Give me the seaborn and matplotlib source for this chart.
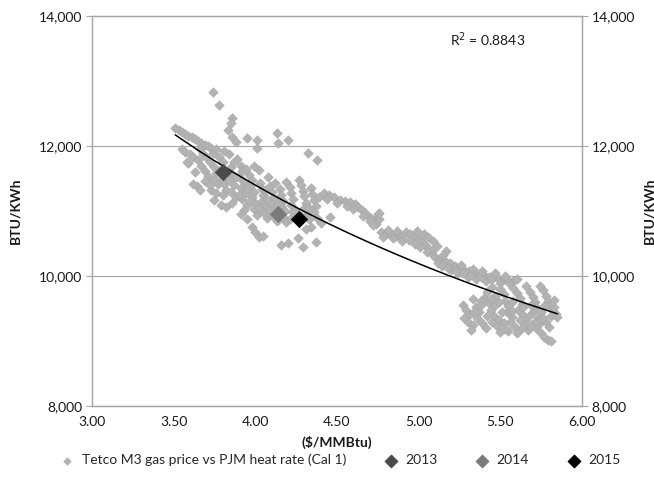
import seaborn as sns
import matplotlib.pyplot as plt
import matplotlib.ticker as mticker
import numpy as np

# Tetco M3 gas price ($/MMBtu) vs PJM heat rate (BTU/KWh)
gas_price = [
    # upper edge strip
    3.51, 3.53, 3.55, 3.57, 3.59, 3.61, 3.63, 3.65, 3.67, 3.69, 3.71, 3.73,
    # upper outliers
    3.74, 3.78, 3.86, 3.85, 3.83, 3.86, 3.88, 3.95, 4.01, 4.01, 4.13, 4.14, 4.20, 4.32, 4.38,
    # second strip / left side
    3.55, 3.57, 3.60, 3.62, 3.65, 3.59, 3.63, 3.64, 3.62, 3.66, 3.58,
    # dense cluster
    3.66, 3.68, 3.70, 3.67, 3.69, 3.71, 3.72, 3.74, 3.75, 3.76, 3.74, 3.77, 3.73,
    3.78, 3.80, 3.79, 3.81, 3.82, 3.80, 3.84, 3.85, 3.86, 3.84, 3.87, 3.85, 3.88, 3.86,
    3.89, 3.91, 3.92, 3.90, 3.93, 3.91, 3.94, 3.92, 3.95, 3.93,
    3.96, 3.98, 3.97, 3.99, 3.98, 4.00, 3.99, 4.01,
    4.02, 4.03, 4.04, 4.05, 4.04, 4.06, 4.05, 4.07,
    4.08, 4.09, 4.10, 4.11, 4.10, 4.12, 4.11, 4.13,
    4.15, 4.16, 4.17, 4.16, 4.18, 4.17, 4.19,
    4.19, 4.21, 4.22, 4.23, 4.22, 4.24, 4.25, 4.26,
    4.27, 4.28, 4.29, 4.30, 4.31, 4.30, 4.32, 4.33,
    4.34, 4.35, 4.36, 4.37, 4.36, 4.38, 4.40, 4.34, 4.39, 4.31,
    3.75, 3.79, 3.82, 3.91, 3.95,
    3.69, 3.72, 3.76, 3.78, 3.83, 3.88, 3.90, 3.95, 3.97, 4.02, 4.07, 4.09, 4.14,
    4.15, 4.21, 4.23, 4.28, 4.33, 4.06, 4.12, 3.94, 3.99, 3.87, 3.81, 3.76,
    # lower strays
    3.98, 4.00, 4.02, 4.05, 4.16, 4.20, 4.26, 4.29, 4.37,
    # right band
    4.42, 4.45, 4.48, 4.52, 4.55, 4.58, 4.61, 4.63, 4.65, 4.67, 4.69, 4.71, 4.73,
    4.75, 4.76, 4.74, 4.46, 4.76,
    4.77, 4.80, 4.83, 4.86, 4.89, 4.92, 4.95, 4.97, 5.00, 5.02, 5.04, 5.06, 5.08,
    4.99, 5.03, 5.06, 5.09, 5.11,
    4.44, 4.50, 4.56, 4.60, 4.66, 4.70, 4.72, 4.78, 4.84, 4.90, 4.94, 4.98, 5.01,
    5.05, 5.09, 4.87, 4.81,
    5.10, 5.13, 5.16, 5.19, 5.22, 5.25, 5.28, 5.31, 5.34, 5.37, 5.40, 5.43, 5.46,
    5.49, 5.52, 5.55, 5.58, 5.17, 5.20, 5.24, 5.30, 5.35, 5.41, 5.12, 5.15,
    5.14, 5.18, 5.23, 5.27, 5.32, 5.38, 5.44, 5.50, 5.56, 5.26, 5.33, 5.39, 5.47,
    5.53, 5.60,
    # lower right cluster
    5.27, 5.29, 5.31, 5.30, 5.33, 5.35, 5.37, 5.36, 5.39, 5.41, 5.43, 5.44, 5.46,
    5.45, 5.48, 5.40, 5.47, 5.50, 5.52, 5.53, 5.55, 5.54, 5.57, 5.56, 5.59,
    5.58, 5.60, 5.62, 5.63, 5.61, 5.64, 5.66, 5.65, 5.67,
    5.66, 5.68, 5.70, 5.71, 5.72, 5.70, 5.73, 5.74, 5.72, 5.75,
    5.76, 5.78, 5.79, 5.80, 5.82, 5.81, 5.84, 5.78, 5.80, 5.77, 5.79, 5.81,
    5.60, 5.55, 5.50, 5.38, 5.33, 5.85, 5.83, 5.74, 5.45, 5.42,
    5.28, 5.32, 5.34, 5.38, 5.42, 5.47, 5.49, 5.51, 5.52, 5.57, 5.58, 5.62, 5.64,
    5.69, 5.68, 5.71, 5.75, 5.77, 5.76, 5.83, 5.69, 5.63, 5.53, 5.44, 5.49,
]
heat_rate = [
    12270, 12240, 12220, 12190, 12160, 12140, 12110, 12080, 12050, 12020, 12000, 11970,
    12830, 12630, 12430, 12350, 12250, 12140, 12060, 12120, 12090, 11970, 12200, 12050, 12090, 11900, 11790,
    11960, 11910, 11870, 11830, 11790, 11740, 11600, 11380, 11420, 11320, 11760,
    11950, 11880, 11830, 11700, 11620, 11540, 11760, 11900, 11680, 11590, 11480, 11410, 11330,
    11830, 11760, 11500, 11420, 11330, 11250, 11870, 11680, 11560, 11480, 11400, 11300, 11210, 11120,
    11800, 11700, 11610, 11520, 11450, 11360, 11280, 11190, 11090, 11010,
    11560, 11480, 11380, 11300, 11210, 11120, 11030, 10940,
    11630, 11430, 11340, 11250, 11150, 11070, 10980, 10890,
    11520, 11380, 11290, 11200, 11110, 11020, 10930, 10850,
    11340, 11250, 11160, 11070, 11000, 10910, 10830,
    11450, 11370, 11280, 11190, 11100, 11020, 10930, 10840,
    11480, 11400, 11310, 11230, 11130, 11050, 10960, 10870,
    11350, 11260, 11170, 11080, 10990, 10900, 10810, 10760, 11210, 10720,
    11170, 11100, 11060, 10960, 10880,
    11460, 11400, 11280, 11620, 11600, 11520, 11250, 11350, 11160, 11050, 11190, 11000, 11120,
    10950, 10880, 10990, 10920, 11040, 11320, 11430, 11640, 11700, 11750, 11930, 11960,
    10760, 10680, 10600, 10620, 10480, 10510, 10590, 10450, 10520,
    11270, 11240, 11220, 11170, 11150, 11140, 11110, 11060, 11010, 10970, 10930, 10890, 10860,
    10960, 10880, 10800, 10910, 10970,
    10670, 10650, 10640, 10620, 10600, 10680, 10640, 10600, 10570, 10520, 10480, 10430, 10390,
    10700, 10650, 10600, 10540, 10460,
    11180, 11120, 11070, 11030, 10930, 10850, 10780, 10600, 10580, 10540, 10560, 10500, 10440,
    10370, 10320, 10690, 10710,
    10300, 10260, 10230, 10200, 10160, 10130, 10100, 10080, 10050, 10030, 10010, 9990, 9980,
    9960, 9950, 9940, 9930, 10390, 10100, 10040, 9990, 9960, 9930, 10200, 10330,
    10160, 10130, 10080, 10040, 10020, 9980, 9950, 9900, 9880, 10170, 10110, 10070, 10040,
    10000, 9960,
    9560, 9480, 9400, 9300, 9250, 9520, 9440, 9350, 9280, 9200, 9580, 9480, 9390,
    9300, 9230, 9660, 9700, 9800, 9720, 9620, 9540, 9450, 9370, 9290, 9210,
    9820, 9740, 9660, 9570, 9480, 9400, 9330, 9250, 9170,
    9840, 9760, 9680, 9600, 9520, 9440, 9360, 9280, 9200, 9120,
    9780, 9700, 9620, 9540, 9460, 9380, 9420, 9300, 9220, 9060, 9020, 9000,
    9130, 9150, 9140, 9620, 9650, 9370, 9630, 9850, 9830, 9750,
    9350, 9170, 9450, 9550, 9380, 9550, 9320, 9440, 9270, 9460, 9620, 9320, 9520,
    9560, 9400, 9300, 9440, 9540, 9360, 9530, 9230, 9200, 9180, 9650, 9600,
]

years = ["2013", "2014", "2015"]
year_price = [3.80, 4.14, 4.27]
year_rate = [11600, 10950, 10880]
year_colors = ["#4a4a4a", "#7a7a7a", "#000000"]

r2_text = "R$^2$ = 0.8843"

sns.set_style("white")
plt.rcParams["font.family"] = ["Lato", "DejaVu Sans"]
plt.rcParams["font.size"] = 10

fig = plt.figure(figsize=(6.54, 4.93), dpi=100)
ax = fig.add_axes([92 / 654, 1 - 406 / 493, 490 / 654, 390 / 493])

grey = "#a6a6a6"

sns.scatterplot(x=gas_price, y=heat_rate, ax=ax, marker="D", s=24,
                color="#b3b3b3", edgecolor="#a3a3a3", linewidth=0.3,
                label="Tetco M3 gas price vs PJM heat rate (Cal 1)", zorder=2)

# power trend line fitted on the data
px = np.array(gas_price)
py = np.array(heat_rate)
b, log_a = np.polyfit(np.log(px), np.log(py), 1)
xs = np.linspace(px.min(), px.max(), 200)
ax.plot(xs, np.exp(log_a) * xs ** b, color="black", lw=1.1, zorder=3, label="_nolegend_")

for yr, xv, yv, c in zip(years, year_price, year_rate, year_colors):
    sns.scatterplot(x=[xv], y=[yv], ax=ax, marker="D", s=70, color=c,
                    edgecolor=c, linewidth=0.5, label=yr, zorder=4)

ax.set_xlim(3, 6)
ax.set_ylim(8000, 14000)
ax.xaxis.set_major_locator(mticker.MultipleLocator(0.5))
ax.xaxis.set_major_formatter(mticker.FormatStrFormatter("%.2f"))
ax.yaxis.set_major_locator(mticker.MultipleLocator(2000))
ax.yaxis.set_major_formatter(mticker.StrMethodFormatter("{x:,.0f}"))
ax.grid(axis="y", color=grey, lw=0.8)
ax.set_axisbelow(True)

ax2 = ax.twinx()
ax2.set_ylim(ax.get_ylim())
ax2.yaxis.set_major_locator(mticker.MultipleLocator(2000))
ax2.yaxis.set_major_formatter(mticker.StrMethodFormatter("{x:,.0f}"))

for a in (ax, ax2):
    for sp in a.spines.values():
        sp.set_color(grey)
        sp.set_linewidth(0.9)
    a.tick_params(direction="out", length=4, color=grey, labelsize=10,
                  labelcolor="#1a1a1a", pad=3)
    a.set_ylabel("BTU/KWh", fontweight="bold", fontsize=10, color="#1a1a1a")

ax.yaxis.set_label_coords(-0.145, 0.5)
ax2.yaxis.set_label_coords(1.125, 0.5)
ax.set_xlabel("($/MMBtu)", fontweight="bold", fontsize=10, color="#1a1a1a", labelpad=6)

ax.text(5.42, 13630, r2_text, ha="center", va="center", fontsize=10, color="#1a1a1a")

handles, labels = ax.get_legend_handles_labels()
ax.get_legend().remove()
fig.legend(handles, labels, loc="center", bbox_to_anchor=(337 / 654, 1 - 460 / 493),
           ncol=4, frameon=False, fontsize=10, handletextpad=0.05,
           columnspacing=2.2, markerscale=0.8)

fig.savefig("out.png", dpi=100)
